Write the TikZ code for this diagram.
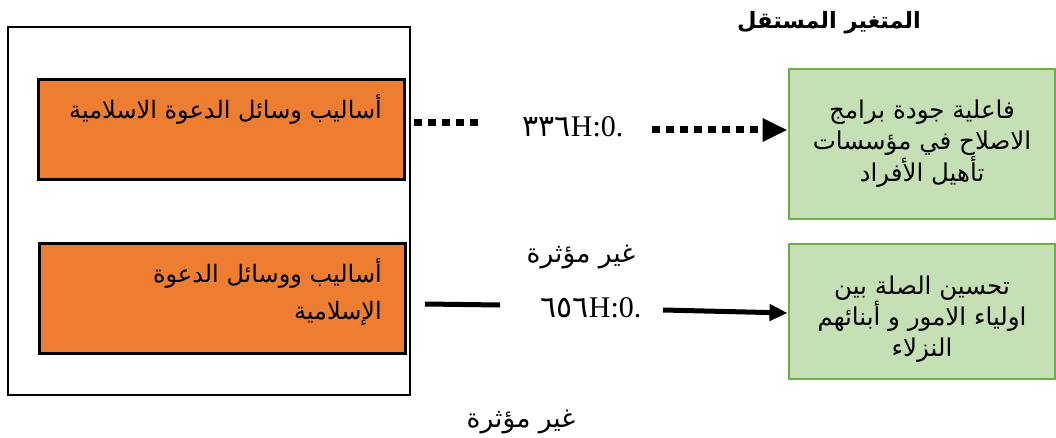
\documentclass[tikz,border=0pt]{standalone}
\usepackage{fontspec}
\setmainfont{Liberation Serif}
\newfontfamily\ar[Script=Arabic]{DejaVu Sans}
\TeXXeTstate=1
\usetikzlibrary{arrows.meta}
\definecolor{orangeF}{HTML}{ED7D31}
\definecolor{greenF}{HTML}{C5E0B4}
\definecolor{greenD}{HTML}{70AD47}
\begin{document}
\begin{tikzpicture}[x=1pt,y=-1pt,
  abox/.style={draw=black, line width=3pt, fill=orangeF, minimum width=366pt, inner sep=0pt},
  gbox/.style={draw=greenD, line width=2pt, fill=greenF, minimum width=266pt, inner sep=0pt},
  gtxt/.style={inner sep=0pt, align=center, font=\ar\fontsize{24.5}{31}\selectfont},
  artxt/.style={font=\ar\fontsize{24}{37}\selectfont, inner sep=0pt},
  lbl/.style={inner sep=0pt, font=\fontsize{30}{34}\selectfont},
  dotline/.style={line width=7pt, dash pattern=on 8pt off 6pt},
  solidline/.style={line width=5pt}]
\useasboundingbox (0,0) rectangle (1056,438);
% outer frame
\node[draw, line width=2pt, minimum width=402pt, minimum height=368pt, inner sep=0pt] (outer) at (209,211) {};
% orange boxes
\node[abox, minimum height=100pt] (o1) at (221.5,130) {};
\node[artxt, anchor=north east, align=right] (t1) at (382,94)
  {\beginR أساليب وسائل الدعوة الاسلامية\endR};
\node[abox, minimum height=110pt] (o2) at (222.5,298) {};
\node[artxt, anchor=north east, align=right] (t2) at (382,258)
  {\beginR أساليب ووسائل الدعوة\endR\\\beginR الإسلامية\endR};
% title
\node[font=\ar\bfseries\fontsize{22.5}{26}\selectfont, inner sep=0pt] (title) at (829,23)
  {\beginR المتغير المستقل\endR};
% green boxes
\node[gbox, minimum height=150pt] (g1) at (921.5,144) {};
\node[gtxt] (g1t) at (922,144)
  {\beginR فاعلية جودة برامج\endR\\\beginR الاصلاح في مؤسسات\endR\\\beginR تأهيل الأفراد\endR};
\node[gbox, minimum height=135pt] (g2) at (921.5,311) {};
\node[gtxt] (g2t) at (922,319)
  {\beginR تحسين الصلة بين\endR\\\beginR اولياء الامور و أبنائهم\endR\\\beginR النزلاء\endR};
% labels
\node[lbl] (l1) at (573,127) {{\ar\fontsize{30}{34}\selectfont ٣٣٦}H:0.};
\node[lbl] (l2) at (591,308) {{\ar\fontsize{30}{34}\selectfont ٦٥٦}H:0.};
\node[artxt, font=\ar\fontsize{26.5}{30}\selectfont] (n1) at (581,257) {\beginR غير مؤثرة\endR};
\node[artxt, font=\ar\fontsize{26.5}{30}\selectfont] (n2) at (521,422) {\beginR غير مؤثرة\endR};
% connectors
\draw[dotline] ([xshift=8pt,yshift=7pt]o1.east) -- ([xshift=-91pt,yshift=4pt]l1.center);
\draw[dotline, -{Triangle[length=25pt,width=22pt]}] ([xshift=79pt,yshift=-3pt]l1.center) -- ([yshift=14pt]g1.west);
\draw[solidline] ([xshift=18pt,yshift=-6pt]o2.east) -- ([xshift=-91pt,yshift=3pt]l2.center);
\draw[solidline, -{Triangle[length=18pt,width=16pt]}] ([xshift=72pt,yshift=-2pt]l2.center) -- ([yshift=-2pt]g2.west);
\end{tikzpicture}
\end{document}
